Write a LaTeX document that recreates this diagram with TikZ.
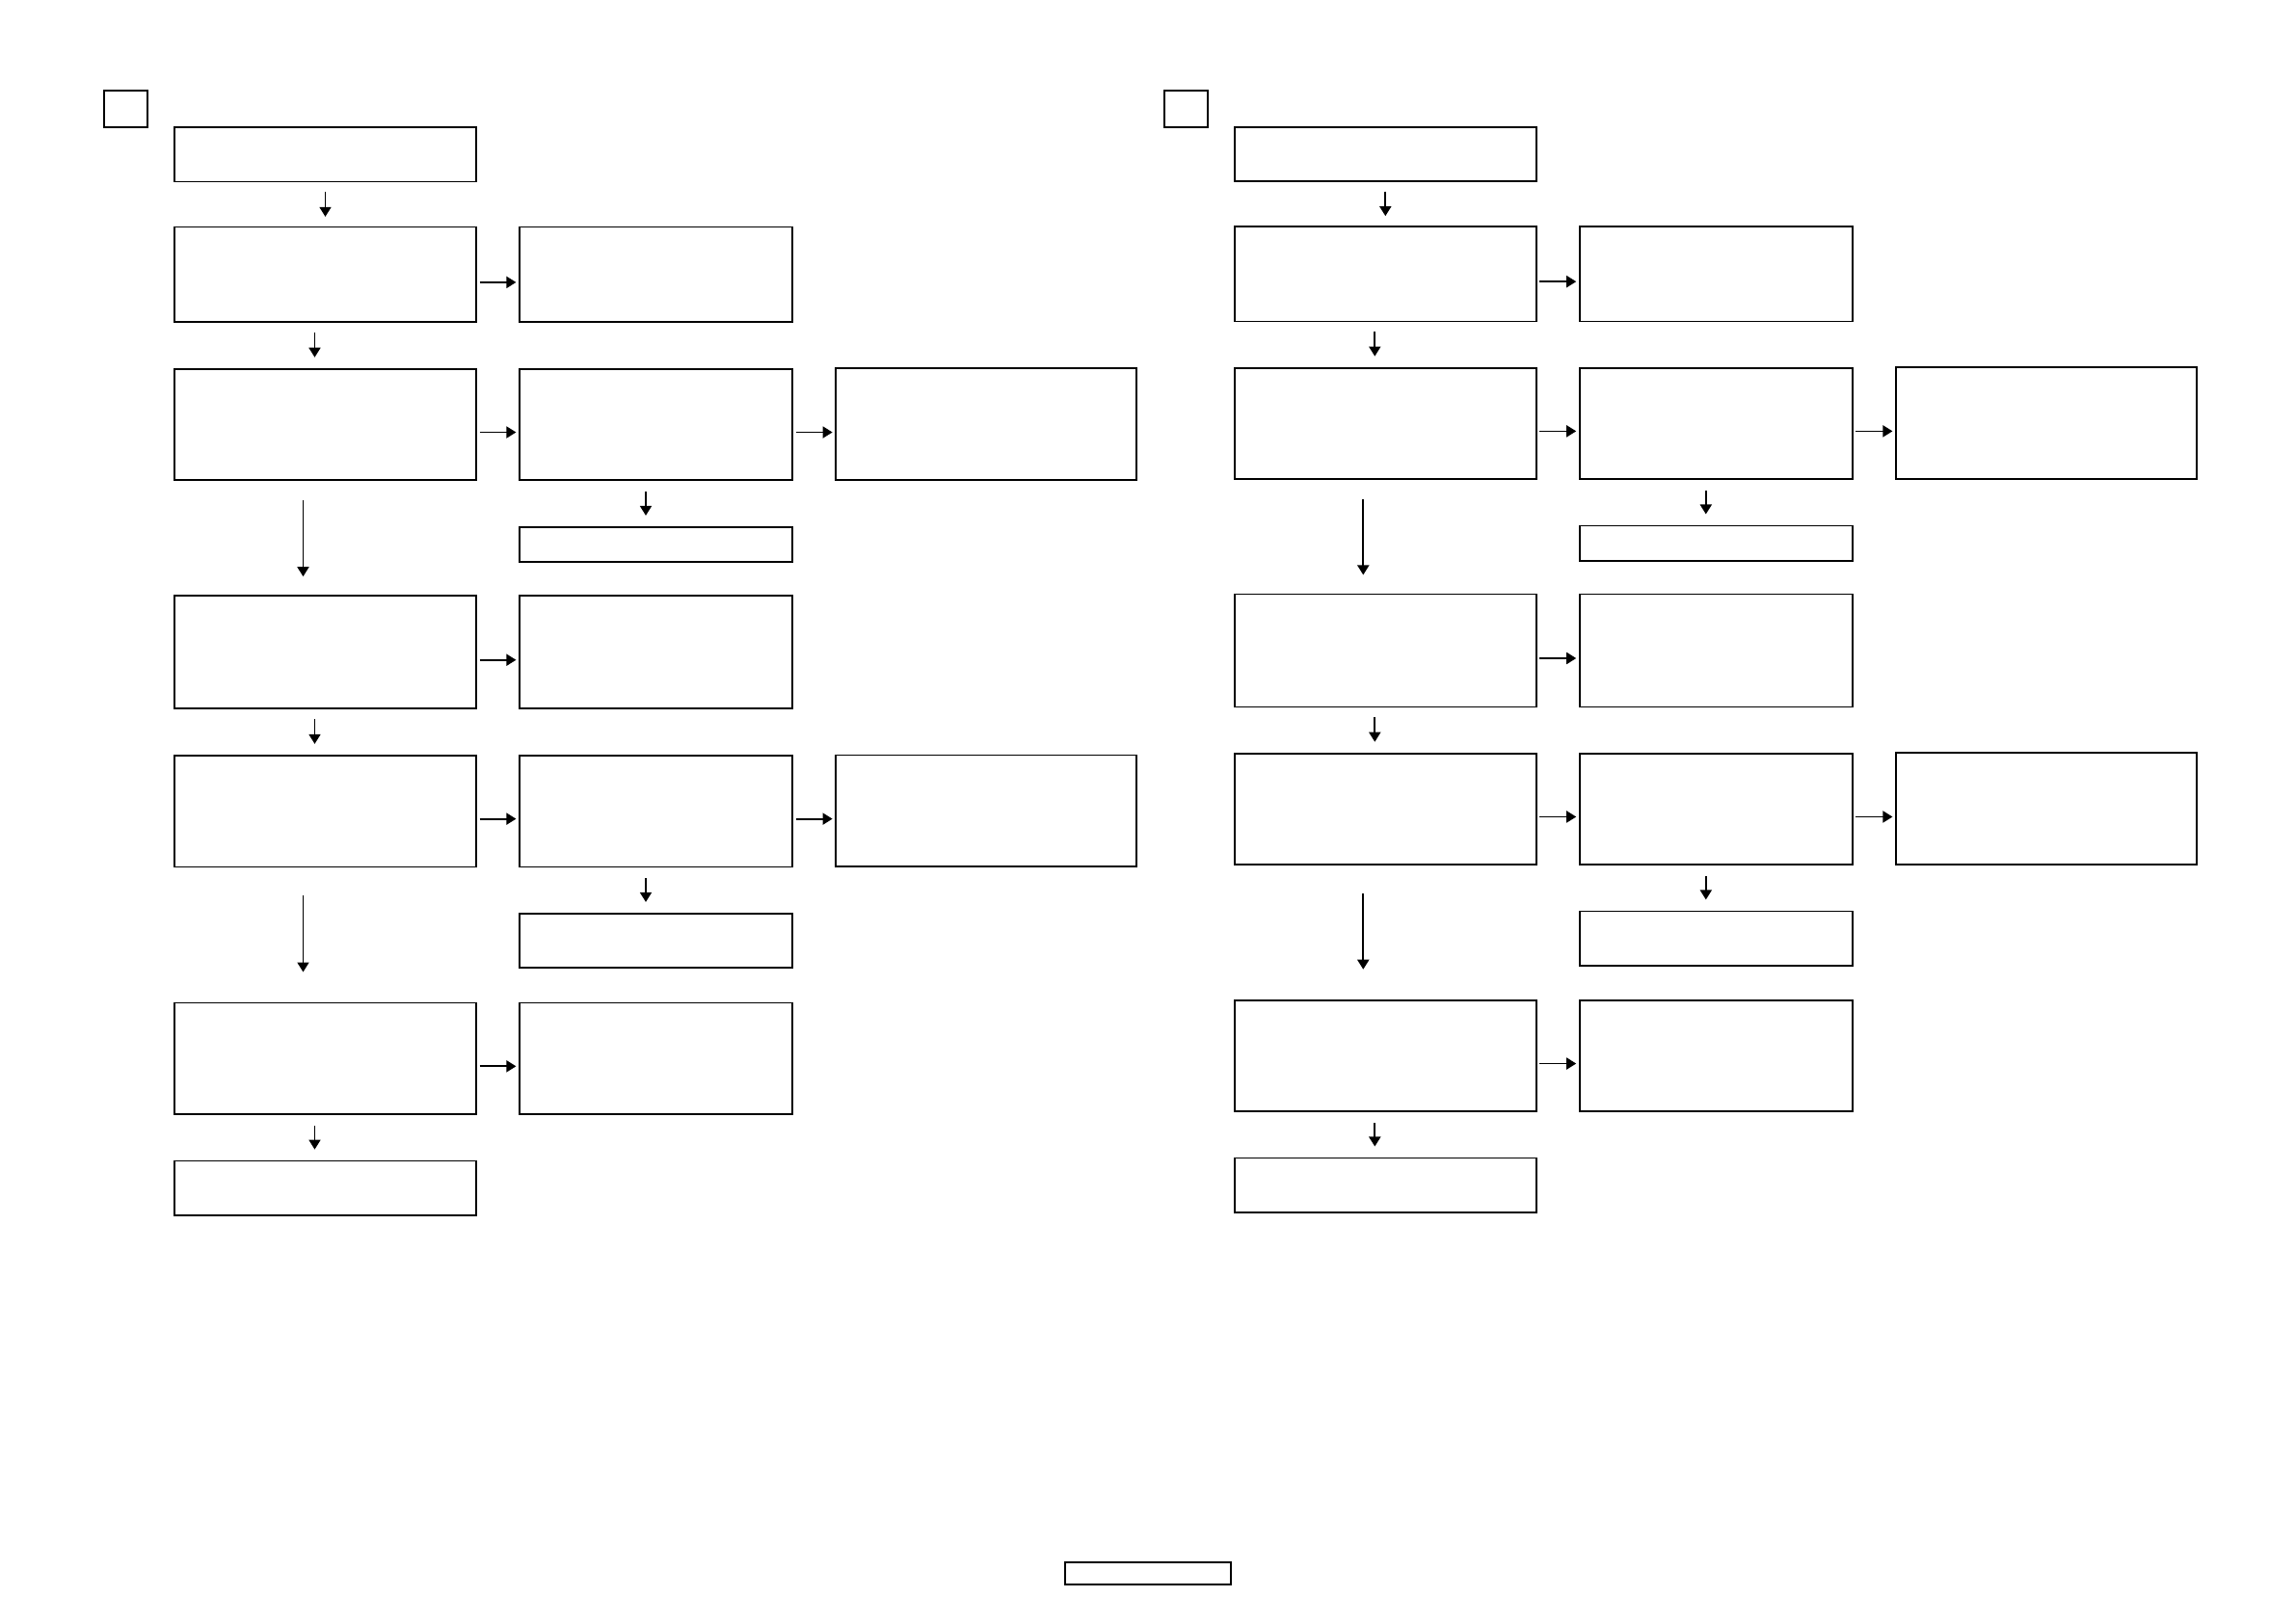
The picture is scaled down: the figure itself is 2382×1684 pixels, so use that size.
\documentclass[tikz,border=0pt]{standalone}
\usetikzlibrary{arrows.meta}
\begin{document}
\begin{tikzpicture}[x=0.01cm, y=-0.01cm,
  box/.style={draw, line width=0.5pt, inner sep=0pt, outer sep=0pt},
  wide/.style={box, minimum width=3.13cm},
  mid/.style={box, minimum width=2.83cm},
  side/.style={box, minimum width=3.12cm},
  arr/.style={-{Triangle[length=1mm,width=1.2mm]}, line width=0.5pt},
  harr/.style={arr, shorten <=0.035cm, shorten >=0.035cm}]
\useasboundingbox (0,0) rectangle (2382,1684);
% two identical flow panels
\foreach \p/\dx/\sy in {L/0/1, R/1099.8/0.9975}{
\begin{scope}[shift={(\dx,0)}, yscale=\sy]
\node[box, minimum width=0.45cm, minimum height=0.38cm] (\p0) at (130.5,113) {};
% left column
\node[wide, minimum height=0.562cm] (\p11) at (337.5,160.3) {};
\node[wide, minimum height=0.987cm] (\p21) at (337.5,284.9) {};
\node[wide, minimum height=1.155cm] (\p31) at (337.5,440.5) {};
\node[wide, minimum height=1.17cm]  (\p41) at (337.5,676.7) {};
\node[wide, minimum height=1.155cm] (\p51) at (337.5,841.6) {};
\node[wide, minimum height=1.155cm] (\p61) at (337.5,1098.3) {};
\node[wide, minimum height=0.562cm] (\p71) at (337.5,1232.7) {};
% middle column
\node[mid, minimum height=0.987cm] (\p22) at (680.5,284.9) {};
\node[mid, minimum height=1.155cm] (\p32) at (680.5,440.5) {};
\node[mid, minimum height=0.364cm] (\p3s) at (680.5,565.1) {};
\node[mid, minimum height=1.17cm]  (\p42) at (680.5,676.7) {};
\node[mid, minimum height=1.155cm] (\p52) at (680.5,841.6) {};
\node[mid, minimum height=0.562cm] (\p5s) at (680.5,976) {};
\node[mid, minimum height=1.155cm] (\p62) at (680.5,1098.3) {};
% right column
\node[side, minimum height=1.155cm] (\p33) at (1023.2,440) {};
\node[side, minimum height=1.155cm] (\p53) at (1023.2,841.2) {};
% down arrows
\draw[arr, shorten <=0.106cm, shorten >=0.107cm] (\p11.south) -- (\p21.north);
\draw[arr, shorten <=0.106cm, shorten >=0.12cm] ([xshift=-0.11cm]\p21.south) -- ([xshift=-0.11cm]\p21.south |- \p31.north);
\draw[arr, shorten <=0.21cm, shorten >=0.2cm] ([xshift=-0.23cm]\p31.south) -- ([xshift=-0.23cm]\p31.south |- \p41.north);
\draw[arr, shorten <=0.12cm, shorten >=0.12cm] ([xshift=-0.105cm]\p32.south) -- ([xshift=-0.105cm]\p32.south |- \p3s.north);
\draw[arr, shorten <=0.107cm, shorten >=0.12cm] ([xshift=-0.11cm]\p41.south) -- ([xshift=-0.11cm]\p41.south |- \p51.north);
\draw[arr, shorten <=0.12cm, shorten >=0.12cm] ([xshift=-0.105cm]\p52.south) -- ([xshift=-0.105cm]\p52.south |- \p5s.north);
\draw[arr, shorten <=0.3cm, shorten >=0.32cm] ([xshift=-0.23cm]\p51.south) -- ([xshift=-0.23cm]\p51.south |- \p61.north);
\draw[arr, shorten <=0.12cm, shorten >=0.12cm] ([xshift=-0.11cm]\p61.south) -- ([xshift=-0.11cm]\p61.south |- \p71.north);
% side arrows
\foreach \a/\b in {21/22, 31/32, 32/33, 41/42, 51/52, 52/53, 61/62}
  \draw[harr] ([yshift=-0.08cm]\p\a.east) -- ([yshift=-0.08cm]\p\a.east -| \p\b.west);
\end{scope}
}
\node[box, minimum width=1.714cm, minimum height=0.23cm] (foot) at (1191,1632.8) {};
\end{tikzpicture}
\end{document}
